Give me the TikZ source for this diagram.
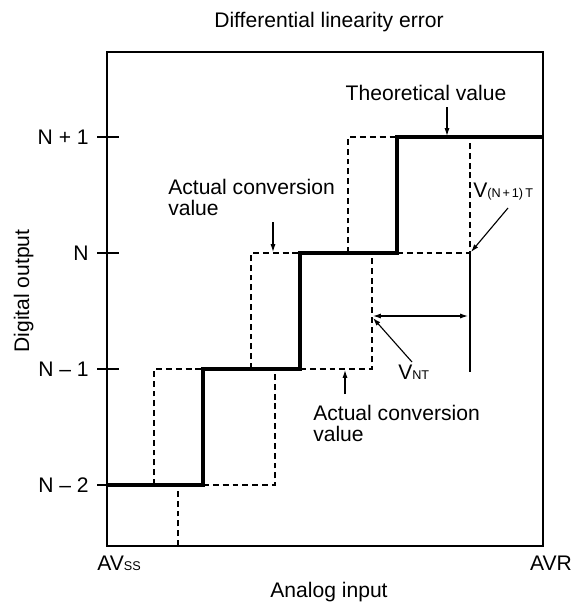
\documentclass[tikz,border=0pt]{standalone}
\usepackage{fontspec}
\setmainfont{Liberation Sans}
\usepackage{tikz}
\usetikzlibrary{positioning, arrows.meta, calc}
\tikzset{
    frameline/.style={line width=0.9pt},
    theoline/.style={line width=2.2pt, line join=miter},
    actline/.style={line width=0.8pt, dash pattern=on 4.2pt off 2.8pt},
    pointer/.style={line width=0.8pt, -{Latex[length=5.6pt, width=3.6pt]}},
    lbl/.style={inner sep=0pt, font=\fontsize{15}{14.4}\selectfont},
}
\newcommand{\lowtxt}[1]{{\fontsize{9}{10}\selectfont #1}}

\begin{document}
\begin{tikzpicture}[x=0.025cm, y=-0.025cm]
        \useasboundingbox (0,0) rectangle (581,604);

        % ==========================================
        % FRAME, TICKS AND AXIS TEXT
        % ==========================================
        \coordinate (box-tl) at (107,52);
        \coordinate (box-br) at (543,546);
        \draw[frameline] (box-tl) rectangle (box-br);

        % 1. Output levels
        \coordinate (lvlA) at (107,485); % N - 2
        \coordinate (lvlB) at (107,369); % N - 1
        \coordinate (lvlC) at (107,253); % N
        \coordinate (lvlD) at (107,137); % N + 1

        \draw[frameline] ($(lvlA)+(-10,0)$) -- ($(lvlA)+(12,0)$);
        \draw[frameline] ($(lvlB)+(-10,0)$) -- ($(lvlB)+(12,0)$);
        \draw[frameline] ($(lvlC)+(-10,0)$) -- ($(lvlC)+(12,0)$);
        \draw[frameline] ($(lvlD)+(-10,0)$) -- ($(lvlD)+(12,0)$);

        \node[lbl, anchor=east] (tickA) at (89,485) {N – 2};
        \node[lbl, anchor=east] (tickB) at (89,369) {N – 1};
        \node[lbl, anchor=east] (tickC) at (89,253) {N};
        \node[lbl, anchor=east] (tickD) at (89,137) {N + 1};

        % 2. Titles
        \node[lbl, anchor=base] (title) at (329,28) {Differential linearity error};
        \node[lbl, anchor=base, rotate=90] (ylabel) at (29,291) {Digital output};
        \node[lbl, anchor=base] (xlabel) at (329,597) {Analog input};
        \node[lbl, anchor=base west] (avss) at (97,570) {AV\lowtxt{SS}};
        \node[lbl, anchor=base] (avr) at (551,570) {AVR};

        % ==========================================
        % TRANSFER CURVES
        % ==========================================
        % 3. Actual conversion values (dashed)
        \draw[actline] (154,485) -- (154,369) -- (203,369);
        \draw[actline] (178,546) -- (178,485);
        \draw[actline] (203,485) -- (275,485) -- (275,369);
        \draw[actline] (251,369) -- (251,253) -- (300,253);
        \draw[actline] (300,369) -- (372,369) -- (372,253);
        \draw[actline] (348,253) -- (348,137) -- (397,137);
        \draw[actline] (397,253) -- (470,253) -- (470,137);
        \draw[frameline] (470,253) -- (470,372);

        % 4. Theoretical value (thick staircase)
        \draw[theoline] (107,485) -- (203,485) -- (203,369) -- (300,369)
            -- (300,253) -- (397,253) -- (397,137) -- (543,137);

        % ==========================================
        % LABELS AND POINTERS
        % ==========================================
        \node[lbl, anchor=base] (theo) at (426,101) {Theoretical value};
        \coordinate (theoTail) at (447,107);
        \coordinate (theoTip) at (447,136);
        \draw[pointer] (theoTail) -- (theoTip);

        % base of a two-line node = baseline of its last line
        \node[lbl, anchor=base west, align=left] (actUp) at (168,215) {Actual conversion\\value};
        \coordinate (actUpTail) at (273,222);
        \coordinate (actUpTip) at (273,252);
        \draw[pointer] (actUpTail) -- (actUpTip);

        \node[lbl, anchor=base west] (vnext) at (473,197) {V\lowtxt{(N\hspace{0.15em}+\hspace{0.15em}1)\hspace{0.18em}T}};
        \coordinate (vnextTail) at (508,208);
        \coordinate (vnextTip) at (471,252);
        \draw[pointer] (vnextTail) -- (vnextTip);

        \coordinate (spanL) at (373,316);
        \coordinate (spanR) at (468,316);
        \draw[pointer, {Latex[length=5.6pt, width=3.6pt]}-{Latex[length=5.6pt, width=3.6pt]}] (spanL) -- (spanR);

        \node[lbl, anchor=base west] (vnt) at (398,379) {V\lowtxt{NT}};
        \coordinate (vntTail) at (412,362);
        \coordinate (vntTip) at (373,318);
        \draw[pointer] (vntTail) -- (vntTip);

        \node[lbl, anchor=base west, align=left] (actLow) at (313,441) {Actual conversion\\value};
        \coordinate (actLowTail) at (345,394);
        \coordinate (actLowTip) at (345,370);
        \draw[pointer] (actLowTail) -- (actLowTip);

    \end{tikzpicture}
\end{document}
